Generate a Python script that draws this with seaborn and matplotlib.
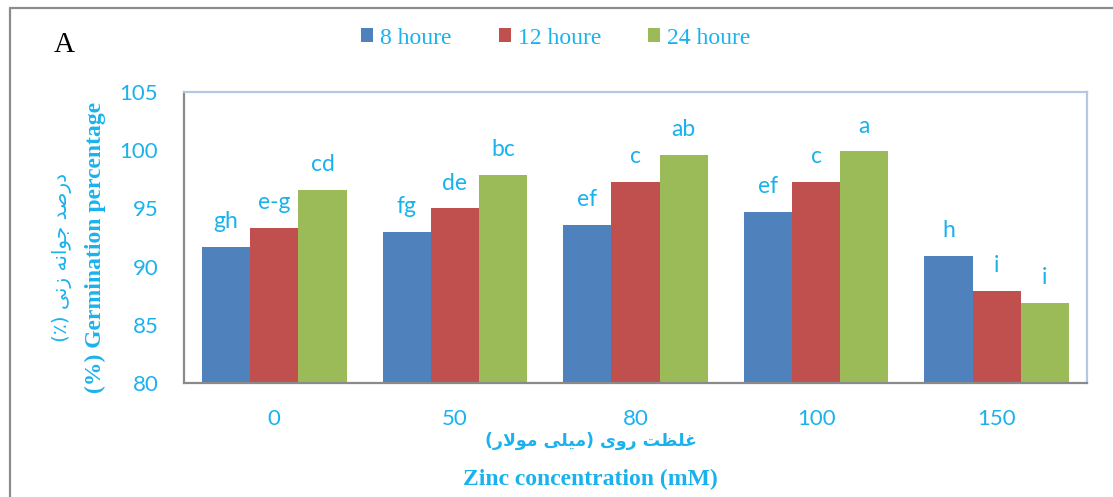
import matplotlib
matplotlib.use("Agg")
import matplotlib.pyplot as plt
from matplotlib.lines import Line2D
import pandas as pd
import seaborn as sns

# Zinc concentrations (mM) on the x axis
concentrations = ["0", "50", "80", "100", "150"]
# Exposure times (legend entries)
times = ["8 houre", "12 houre", "24 houre"]

# Germination percentage per exposure time
germ_8h = [91.7, 93.0, 93.6, 94.7, 90.9]
germ_12h = [93.3, 95.0, 97.3, 97.3, 87.9]
germ_24h = [96.6, 97.9, 99.6, 99.9, 86.9]

# Mean-separation letters per exposure time
letters_8h = ["gh", "fg", "ef", "ef", "h"]
letters_12h = ["e-g", "de", "c", "c", "i"]
letters_24h = ["cd", "bc", "ab", "a", "i"]

y_ticks = [80, 85, 90, 95, 100, 105]

colors = ["#4F81BD", "#C0504D", "#9BBB59"]
text_blue = "#1AB2EE"

# Persian labels, written as presentation-form glyphs in display order
fa_ylabel = ("(\u066A) " + "\uFEF0\uFEE7\uFEAF" + " "
             + "\uFEEA\uFEE7\uFE8D\uFEEE\uFE9F" + " "
             + "\uFEAA\uFEBB\uFEAD\uFEA9")
fa_xlabel = ("(" + "\uFEAD\uFEFB\uFEEE\uFEE3" + " "
             + "\uFEF0\uFEE0\uFEF4\uFEE3" + ") "
             + "\uFEEF\uFEED\uFEAD" + " "
             + "\uFE96\uFEC8\uFEE0\uFECF")

df = pd.DataFrame({
    "conc": concentrations * 3,
    "time": [t for t in times for _ in concentrations],
    "value": germ_8h + germ_12h + germ_24h,
})

sns.set_theme(style="white")
plt.rcParams["font.family"] = ["Lato", "DejaVu Sans"]

W, H = 1113, 497
fig = plt.figure(figsize=(W / 100, H / 100), dpi=100)
ax = fig.add_axes([184 / W, 1 - 383 / H, (1087 - 184) / W, (383 - 92) / H])

sns.barplot(data=df, x="conc", y="value", hue="time", order=concentrations,
            hue_order=times, palette=colors, saturation=1, width=0.8,
            errorbar=None, linewidth=0, ax=ax)

ax.set_ylim(80, 105)
ax.set_yticks(y_ticks)
ax.set_xlabel("")
ax.set_ylabel("")
ax.tick_params(axis="both", length=0, pad=18.5, labelsize=16,
               labelcolor=text_blue)
for side in ("left", "bottom"):
    ax.spines[side].set_color("#8A8A8A")
    ax.spines[side].set_linewidth(1.6)
for side in ("top", "right"):
    ax.spines[side].set_color("#B4C8E6")
    ax.spines[side].set_linewidth(1.6)

# letters above bars
for container, labels in zip(ax.containers, [letters_8h, letters_12h, letters_24h]):
    for bar, lab in zip(container, labels):
        ax.annotate(lab, (bar.get_x() + bar.get_width() / 2, bar.get_height()),
                    xytext=(0, 13.5), textcoords="offset points",
                    ha="center", va="baseline", color=text_blue, fontsize=16.5)

sns.move_legend(ax, "center", bbox_to_anchor=(556 / W, 1 - 38 / H),
                bbox_transform=fig.transFigure, ncol=3, frameon=False,
                title=None, prop={"family": "Liberation Serif", "size": 17},
                labelcolor=text_blue, handlelength=0.5, handleheight=0.5,
                handletextpad=0.3, columnspacing=2.0)

# panel letter
fig.text(54 / W, 1 - 52 / H, "A", family="Liberation Serif", fontsize=21,
         ha="left", va="baseline", color="black")

# axis titles
fig.text(95 / W, 1 - 247 / H, "(%) Germination percentage", rotation=90,
         family="Liberation Serif", fontweight="bold", fontsize=17,
         ha="center", va="center", color=text_blue)
fig.text(62 / W, 1 - 257 / H, fa_ylabel, rotation=90, family="DejaVu Sans",
         fontsize=14.5, ha="center", va="center", color=text_blue)
fig.text(591 / W, 1 - 441 / H, fa_xlabel, family="DejaVu Sans",
         fontweight="bold", fontsize=12.5, ha="center", va="center",
         color=text_blue)
fig.text(590 / W, 1 - 479 / H, "Zinc concentration (mM)",
         family="Liberation Serif", fontweight="bold", fontsize=17,
         ha="center", va="center", color=text_blue)

# outer frame (left and top edges)
frame_kw = dict(transform=fig.transFigure, color="#8C8C8C", lw=1.6)
fig.add_artist(Line2D([9.5 / W, 9.5 / W], [0, 1 - 8 / H], **frame_kw))
fig.add_artist(Line2D([9.5 / W, 1], [1 - 8 / H, 1 - 8 / H], **frame_kw))

fig.savefig("out.png", dpi=100, facecolor="white")
